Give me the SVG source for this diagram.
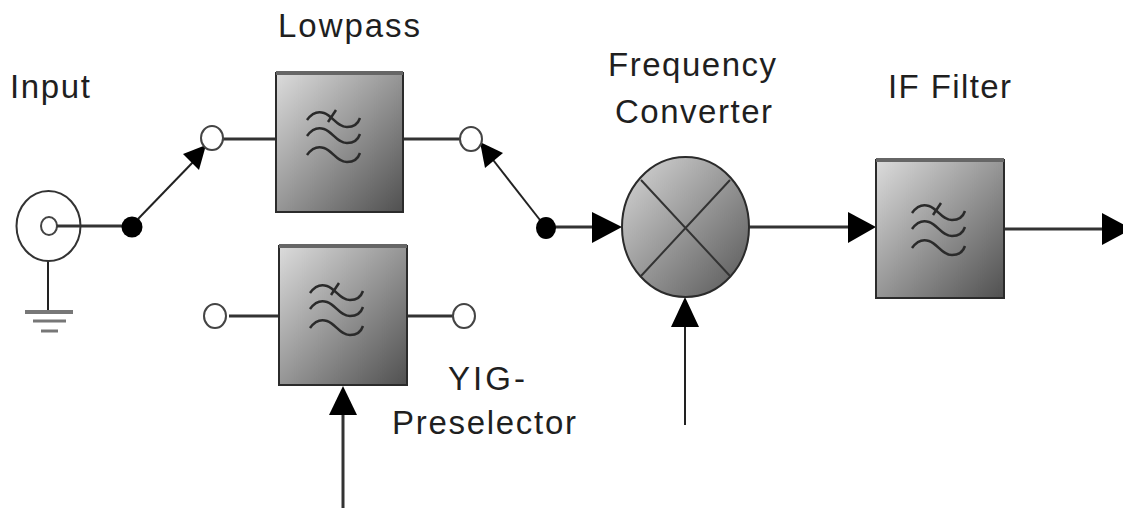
<svg xmlns="http://www.w3.org/2000/svg" xmlns:xlink="http://www.w3.org/1999/xlink" width="1123" height="509" viewBox="0 0 1123 509">
<style>
text{font-family:"Liberation Sans",Arial,sans-serif;font-size:33px;fill:#1f1f1f}
.box{fill:url(#g);stroke:#2b2b2b;stroke-width:2}
.top{stroke:#666;stroke-width:4;fill:none}
.w{fill:none;stroke:#2a2a2a;stroke-width:2.500}
.l{stroke:#333;stroke-width:3;fill:none}
.t{stroke:#222;stroke-width:2;fill:none}
.o{fill:#fff;stroke:#444;stroke-width:2}
.d{fill:#000}
.a{fill:#000}
</style>
<defs>
<linearGradient id="g" x1="0" y1="0" x2="1" y2="1"><stop offset="0" stop-color="#dcdcdc"/><stop offset="1" stop-color="#505050"/></linearGradient>
<linearGradient id="gm" x1="0" y1="0" x2="1" y2="1"><stop offset="0.050" stop-color="#d2d2d2"/><stop offset="0.950" stop-color="#5c5c5c"/></linearGradient>
<path id="wv" class="w" d="M-26,-16C-21,-23 -15,-25 -9,-23C0,-20 4,-9 14,-9C20,-9 25,-12 27,-18"/>
<g id="wave">
<use xlink:href="#wv"/>
<use xlink:href="#wv" y="16"/>
<use xlink:href="#wv" y="35"/>
<path class="w" d="M-5,-14L3,-26"/>
</g>
</defs>
<g id="connectors">
<path class="l" d="M56,226H131"/>
<path class="t" d="M48,260V312"/>
<path class="t" d="M138,219L195,160"/>
<path class="a" d="M206,145L199,170L183,154Z"/>
<path class="l" d="M223,139H276"/>
<path class="l" d="M403,139H460"/>
<path class="t" d="M540,220L490,156"/>
<path class="a" d="M480,142L503,153L485,168Z"/>
<path class="l" d="M229,316H279"/>
<path class="l" d="M407,316H453"/>
<path class="l" d="M555,227H600"/>
<path class="a" d="M622,227L592,212V243Z"/>
<path class="l" d="M749,227H850"/>
<path class="a" d="M876,227L848,212V243Z"/>
<path class="l" d="M1004,229H1105"/>
<path class="a" d="M1132,229L1102,213V245Z"/>
<path class="t" d="M685,326V425"/>
<path class="a" d="M685,297L671,327H699Z"/>
<path class="l" d="M343,415V508"/>
<path class="a" d="M343,386L329,415H357Z"/>
</g>
<g id="input">
<text x="10" y="98" textLength="80">Input</text>
<ellipse cx="48.500" cy="226" rx="32" ry="35" fill="#fff" stroke="#333" stroke-width="2"/>
<ellipse cx="49" cy="226" rx="8" ry="9" class="o"/>
<path class="l" d="M57,226H81"/>
</g>
<g id="ground"><path d="M25,312H73" stroke="#777" stroke-width="4"/><path d="M33,321H66" stroke="#777" stroke-width="3"/><path d="M41,331H58" stroke="#777" stroke-width="3"/></g>
<g id="switch-in"><circle cx="132" cy="227" r="10.500" class="d"/><ellipse cx="212" cy="138" rx="11" ry="12" class="o"/></g>
<g id="lowpass"><rect class="box" x="276" y="73" width="127" height="139"/><path class="top" d="M276,73H403"/><use xlink:href="#wave" x="333" y="136"/><text x="278" y="37" textLength="142">Lowpass</text></g>
<g id="switch-out"><ellipse cx="471" cy="139" rx="11" ry="12" class="o"/><ellipse cx="546" cy="228" rx="10" ry="11" class="d"/></g>
<g id="yig"><rect class="box" x="279" y="246" width="128" height="139"/><path class="top" d="M279,246H407"/><use xlink:href="#wave" x="336" y="309"/><ellipse cx="215" cy="316" rx="11" ry="12" class="o"/><ellipse cx="464" cy="316" rx="11" ry="12" class="o"/><text x="448" y="390" textLength="77">YIG-</text><text x="392" y="434" textLength="184">Preselector</text></g>
<g id="mixer"><ellipse cx="685.500" cy="227" rx="63.500" ry="70" fill="url(#gm)" stroke="#2b2b2b" stroke-width="2"/><path d="M641,180L730,276M730,180L641,276" stroke="#333" stroke-width="2" fill="none"/><text x="608" y="76" textLength="168">Frequency</text><text x="615" y="123" textLength="157">Converter</text></g>
<g id="if-filter"><rect class="box" x="876" y="160" width="128" height="138"/><path class="top" d="M876,160H1004"/><use xlink:href="#wave" x="938" y="229"/><text x="888" y="98" textLength="123">IF Filter</text></g>
</svg>
